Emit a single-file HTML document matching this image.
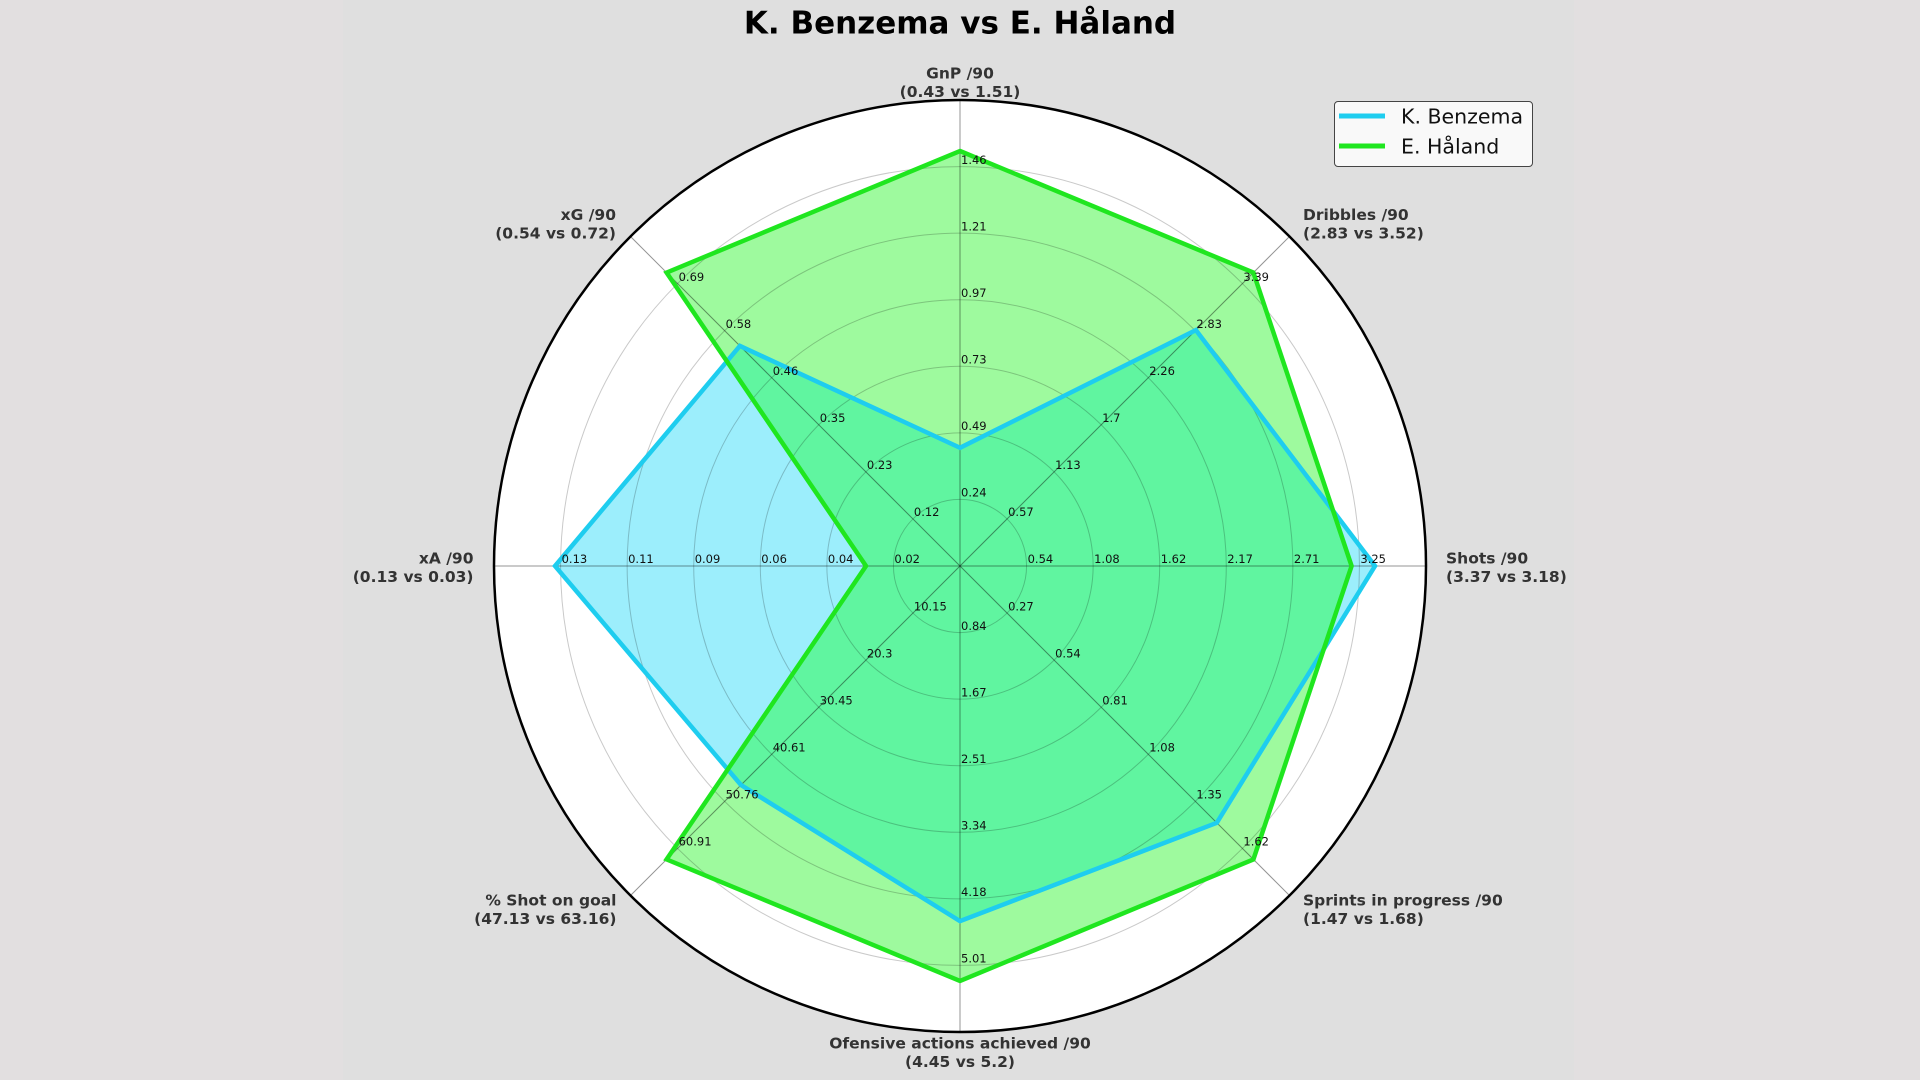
<!DOCTYPE html>
<html>
<head>
<meta charset="utf-8">
<style>
  html, body { margin: 0; padding: 0; }
  body { width: 1920px; height: 1080px; background: #e2dfe0; overflow: hidden; position: relative; }
  #fig { position: absolute; left: 343px; top: 0; width: 1231px; height: 1080px; background: #dfdfdf; }
  svg { position: absolute; left: 0; top: 0; }
  text { font-family: "DejaVu Sans", "Liberation Sans", sans-serif; }
  .tick { font-size: 11.5px; fill: #111; }
  .ax { font-size: 15.5px; font-weight: bold; fill: #333; }
</style>
</head>
<body>
<div id="fig"></div>
<svg width="1920" height="1080" viewBox="0 0 1920 1080" xmlns="http://www.w3.org/2000/svg">
  <defs>
    <clipPath id="hclip">
      <polygon points="960,151 1253.4,272.6 1351.6,566 1253.4,859.4 960,981 666.6,859.4 866,566 666.6,272.6"/>
    </clipPath>
  </defs>

  <!-- Title -->
  <text x="960" y="33.5" text-anchor="middle" style="font-size:31px;font-weight:bold;fill:#000;">K. Benzema vs E. Håland</text>

  <!-- Plot background -->
  <circle cx="960" cy="566" r="466" fill="#ffffff"/>

  <!-- Fills -->
  <polygon points="960,151 1253.4,272.6 1351.6,566 1253.4,859.4 960,981 666.6,859.4 866,566 666.6,272.6" fill="#9efa9e"/>
  <polygon points="960,447.8 1195.9,330.1 1375,566 1216.8,822.8 960,921.1 741,785 555,566 739.9,345.9" fill="#9ceefc"/>
  <polygon clip-path="url(#hclip)" points="960,447.8 1195.9,330.1 1375,566 1216.8,822.8 960,921.1 741,785 555,566 739.9,345.9" fill="#60f5a0"/>

  <!-- Grid rings -->
  <g fill="none" stroke="rgba(0,0,0,0.21)" stroke-width="1">
    <circle cx="960" cy="566" r="66.57"/>
    <circle cx="960" cy="566" r="133.14"/>
    <circle cx="960" cy="566" r="199.71"/>
    <circle cx="960" cy="566" r="266.29"/>
    <circle cx="960" cy="566" r="332.86"/>
    <circle cx="960" cy="566" r="399.43"/>
  </g>
  <!-- Spokes -->
  <g stroke="rgba(0,0,0,0.42)" stroke-width="1">
    <line x1="960" y1="566" x2="960" y2="100"/>
    <line x1="960" y1="566" x2="960" y2="1032"/>
    <line x1="960" y1="566" x2="494" y2="566"/>
    <line x1="960" y1="566" x2="1426" y2="566"/>
    <line x1="960" y1="566" x2="1289.5" y2="236.5"/>
    <line x1="960" y1="566" x2="630.5" y2="236.5"/>
    <line x1="960" y1="566" x2="1289.5" y2="895.5"/>
    <line x1="960" y1="566" x2="630.5" y2="895.5"/>
  </g>
  <!-- Outer circle -->
  <circle cx="960" cy="566" r="466" fill="none" stroke="#000" stroke-width="2.5"/>

  <!-- Series lines -->
  <polygon points="960,447.8 1195.9,330.1 1375,566 1216.8,822.8 960,921.1 741,785 555,566 739.9,345.9" fill="none" stroke="#1ecdef" stroke-width="4.5" stroke-linejoin="miter"/>
  <polygon points="960,151 1253.4,272.6 1351.6,566 1253.4,859.4 960,981 666.6,859.4 866,566 666.6,272.6" fill="none" stroke="#1fe61f" stroke-width="4.5" stroke-linejoin="miter"/>

  <!-- Tick labels: GnP -->
  <g class="tick">
    <text x="961" y="496.6">0.24</text>
    <text x="961" y="430.1">0.49</text>
    <text x="961" y="363.5">0.73</text>
    <text x="961" y="296.9">0.97</text>
    <text x="961" y="230.4">1.21</text>
    <text x="961" y="163.8">1.46</text>
  </g>
  <!-- Dribbles -->
  <g class="tick">
    <text x="1008.1" y="516.1">0.57</text>
    <text x="1055.1" y="469.1">1.13</text>
    <text x="1102.2" y="422">1.7</text>
    <text x="1149.3" y="374.9">2.26</text>
    <text x="1196.4" y="327.9">2.83</text>
    <text x="1243.4" y="280.8">3.39</text>
  </g>
  <!-- Shots -->
  <g class="tick">
    <text x="1027.6" y="563.2">0.54</text>
    <text x="1094.1" y="563.2">1.08</text>
    <text x="1160.7" y="563.2">1.62</text>
    <text x="1227.3" y="563.2">2.17</text>
    <text x="1293.9" y="563.2">2.71</text>
    <text x="1360.4" y="563.2">3.25</text>
  </g>
  <!-- Sprints -->
  <g class="tick">
    <text x="1008.1" y="610.3">0.27</text>
    <text x="1055.1" y="657.3">0.54</text>
    <text x="1102.2" y="704.4">0.81</text>
    <text x="1149.3" y="751.5">1.08</text>
    <text x="1196.4" y="798.6">1.35</text>
    <text x="1243.4" y="845.6">1.62</text>
  </g>
  <!-- Ofensive actions -->
  <g class="tick">
    <text x="961" y="629.8">0.84</text>
    <text x="961" y="696.3">1.67</text>
    <text x="961" y="762.9">2.51</text>
    <text x="961" y="829.5">3.34</text>
    <text x="961" y="896.1">4.18</text>
    <text x="961" y="962.6">5.01</text>
  </g>
  <!-- % Shot on goal -->
  <g class="tick">
    <text x="913.9" y="610.3">10.15</text>
    <text x="866.9" y="657.3">20.3</text>
    <text x="819.8" y="704.4">30.45</text>
    <text x="772.7" y="751.5">40.61</text>
    <text x="725.6" y="798.6">50.76</text>
    <text x="678.6" y="845.6">60.91</text>
  </g>
  <!-- xA -->
  <g class="tick">
    <text x="894.4" y="563.2">0.02</text>
    <text x="827.9" y="563.2">0.04</text>
    <text x="761.3" y="563.2">0.06</text>
    <text x="694.7" y="563.2">0.09</text>
    <text x="628.1" y="563.2">0.11</text>
    <text x="561.6" y="563.2">0.13</text>
  </g>
  <!-- xG -->
  <g class="tick">
    <text x="913.9" y="516.1">0.12</text>
    <text x="866.9" y="469.1">0.23</text>
    <text x="819.8" y="422">0.35</text>
    <text x="772.7" y="374.9">0.46</text>
    <text x="725.6" y="327.9">0.58</text>
    <text x="678.6" y="280.8">0.69</text>
  </g>

  <!-- Axis category labels -->
  <g class="ax">
    <text x="960" y="78.7" text-anchor="middle">GnP /90</text>
    <text x="960" y="97" text-anchor="middle">(0.43 vs 1.51)</text>

    <text x="616" y="220" text-anchor="end">xG /90</text>
    <text x="616" y="238.5" text-anchor="end">(0.54 vs 0.72)</text>

    <text x="1303" y="220">Dribbles /90</text>
    <text x="1303" y="238.5">(2.83 vs 3.52)</text>

    <text x="1446" y="563.5">Shots /90</text>
    <text x="1446" y="582">(3.37 vs 3.18)</text>

    <text x="473.5" y="563.5" text-anchor="end">xA /90</text>
    <text x="473.5" y="582" text-anchor="end">(0.13 vs 0.03)</text>

    <text x="1303" y="905.6">Sprints in progress /90</text>
    <text x="1303" y="924">(1.47 vs 1.68)</text>

    <text x="616.5" y="905.6" text-anchor="end">% Shot on goal</text>
    <text x="616.5" y="924" text-anchor="end">(47.13 vs 63.16)</text>

    <text x="960" y="1048.5" text-anchor="middle">Ofensive actions achieved /90</text>
    <text x="960" y="1067" text-anchor="middle">(4.45 vs 5.2)</text>
  </g>

  <!-- Legend -->
  <rect x="1334.5" y="101.5" width="198" height="65" rx="3.5" ry="3.5" fill="#f9f9f9" stroke="#444" stroke-width="1"/>
  <line x1="1339" y1="116" x2="1385" y2="116" stroke="#1ecdef" stroke-width="5"/>
  <line x1="1339" y1="146" x2="1385" y2="146" stroke="#1fe61f" stroke-width="5"/>
  <text x="1401" y="123.3" style="font-size:20.5px;fill:#111;">K. Benzema</text>
  <text x="1401" y="153.3" style="font-size:20.5px;fill:#111;">E. Håland</text>
</svg>
</body>
</html>
